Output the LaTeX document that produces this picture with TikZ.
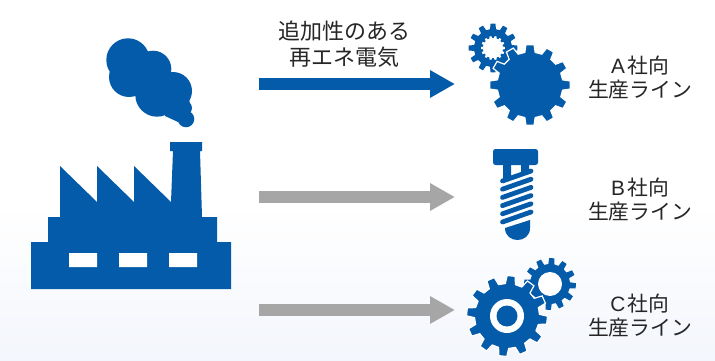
\documentclass[tikz,border=0pt]{standalone}
\usepackage{fontspec}
\setmainfont{Noto Sans CJK JP}
\newfontfamily\latinfont{Liberation Sans}
\usetikzlibrary{arrows.meta}
\definecolor{iconblue}{HTML}{045BAA}
\definecolor{arrowgrey}{HTML}{A6A6A6}
\definecolor{bgbottom}{HTML}{F3F6FC}
\newcommand{\letterlabel}[1]{{\latinfont #1}\kern2.5pt}
\tikzset{
  icon/.style={fill=iconblue,draw=none},
  bluearrow/.style={draw=iconblue,line width=12pt,-{Triangle[length=25pt,width=26pt,fill=iconblue]}},
  greyarrow/.style={draw=arrowgrey,line width=12pt,-{Triangle[length=25pt,width=26pt,fill=arrowgrey]}},
  toplabel/.style={font=\fontsize{22}{26}\selectfont,align=center,text=black!85,inner sep=0pt},
  label/.style={font=\fontsize{20.8}{24}\selectfont,align=center,text=black!85,inner sep=0pt},
  thread/.style={draw=iconblue,line width=4.8pt,line cap=round},
}
% cx cy outer root teeth rotation style
\newcommand{\gearshape}[7]{%
  \path[#7,shift={(#1,#2)}] (#6+0.30*360/#5:#4)
    \foreach \i [evaluate=\i as \t using #6+\i*360/#5] in {1,...,#5}{
      -- (\t-0.30*360/#5:#4) -- (\t-0.19*360/#5:#3) -- (\t+0.19*360/#5:#3) -- (\t+0.30*360/#5:#4)
    } -- cycle;}
\begin{document}
\begin{tikzpicture}[x=1pt,y=-1pt]
\useasboundingbox (0,0) rectangle (715,361);
\fill[white] (0,0) rectangle (715,205);
\shade[top color=white,bottom color=bgbottom,draw=none] (0,205) rectangle (715,361);
% smoke
\fill[icon] (128,60) circle (21.7) (129,77) circle (20) (153,69) circle (18.3)
  (157,95) circle (21.7) (173,91) circle (19) (185,108) circle (7) (186,119) circle (8.3)
  (140,70) circle (18);
\fill[icon] (165,116) -- (178,122) -- (191,108) -- (188,95) -- (170,95) -- cycle;
% factory
\fill[icon] (31,289) -- (31,242) -- (48,242) -- (48,217) -- (60,217) -- (60,166) -- (97,202) -- (97,166)
  -- (134,202) -- (134,166) -- (171,202) -- (173,151) -- (170,151) -- (170,142) -- (202,142) -- (202,151)
  -- (200,151) -- (202,217) -- (217,217) -- (217,242) -- (231,242) -- (231,289) -- cycle;
\fill[white!98!bgbottom] (69,253) rectangle (97,267) (119,253) rectangle (147,267) (169,253) rectangle (197,267);
% gears A
\gearshape{493}{48}{24.5}{19}{12}{0}{icon}
\gearshape{493}{48}{12}{10}{14}{0}{fill=white}
\gearshape{530}{85}{40.5}{33}{12}{0}{icon,draw=white,line width=1.2pt}
% screw
\fill[icon,rounded corners=2.5pt] (493,165) -- (493,149) -- (538,149) -- (538,165) -- cycle;
\fill[icon] (503,165) rectangle (511,178) (521,165) rectangle (529,174);
\foreach \d in {0,8.2,16.4,24.6,32.8,41}{\draw[thread] (502.5,181+\d) -- (531,171+\d);}
\fill[icon] (505,228) -- (530,220) -- (530,228) .. controls (530,244) and (505,244) .. (505,228) -- cycle;
% gears C
\gearshape{550}{284}{26}{20}{12}{4}{icon}
\fill[white] (550,284) circle (12);
\gearshape{507}{316}{40.5}{32.5}{12}{6}{icon,draw=white,line width=1.2pt}
\fill[white] (507,316) circle (17);
\fill[icon] (507,316) circle (10.5);
% arrows
\coordinate (a1s) at (259,84); \coordinate (a1e) at (455,84);
\coordinate (a2s) at (259,197); \coordinate (a2e) at (455,197);
\coordinate (a3s) at (259,310); \coordinate (a3e) at (455,310);
\draw[bluearrow] (a1s) -- (a1e);
\draw[greyarrow] (a2s) -- (a2e);
\draw[greyarrow] (a3s) -- (a3e);
% labels
\node[toplabel] (top) at (344,44) {追加性のある\\再エネ電気};
\node[label] (la) at (640,78) {\letterlabel{A}社向\\生産ライン};
\node[label] (lb) at (640,200) {\letterlabel{B}社向\\生産ライン};
\node[label] (lc) at (640,316) {\letterlabel{C}社向\\生産ライン};
\end{tikzpicture}
\end{document}
